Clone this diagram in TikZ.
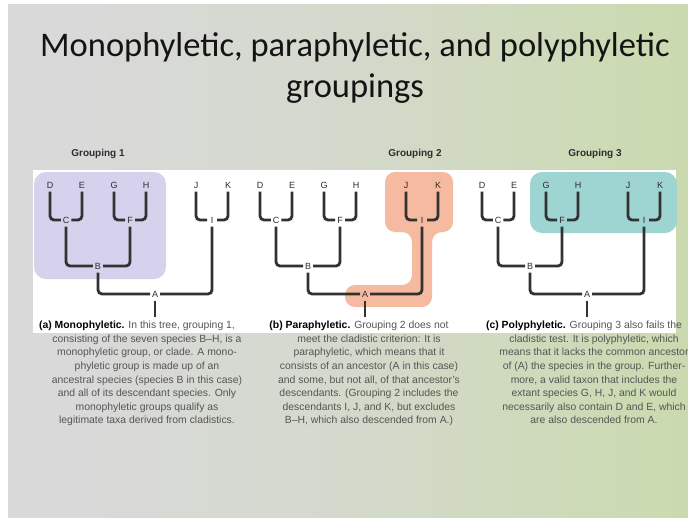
\documentclass[tikz,border=0pt]{standalone}
\usepackage{fontspec}
\setmainfont{Liberation Sans}
\newfontfamily\titlefont{Carlito}
\usetikzlibrary{positioning}

\definecolor{bgleft}{RGB}{217,217,217}
\definecolor{bgleftmid}{RGB}{212,217,204}
\definecolor{bgmid}{RGB}{204,218,180}
\definecolor{bgright}{RGB}{192,214,140}
\definecolor{monofill}{RGB}{214,210,237}
\definecolor{parafill}{RGB}{246,186,160}
\definecolor{polyfill}{RGB}{158,212,210}
\definecolor{branchgrey}{RGB}{50,50,50}
\definecolor{labelgrey}{RGB}{45,45,45}
\definecolor{captext}{RGB}{85,85,85}
\definecolor{titlecol}{RGB}{20,20,20}

\pgfdeclarehorizontalshading{slidebg}{100bp}{color(0bp)=(bgleft); color(30bp)=(bgleft); color(50bp)=(bgleftmid); color(70bp)=(bgmid); color(100bp)=(bgright)}

% one cladogram, #1 = x offset, #2 = name prefix
\newcommand{\phylotree}[2]{%
  \begin{scope}[xshift=#1pt]
    \node[leaf] (#2D) at (50,185) {D};
    \node[leaf] (#2E) at (82,185) {E};
    \node[leaf] (#2G) at (114,185) {G};
    \node[leaf] (#2H) at (146,185) {H};
    \node[leaf] (#2J) at (196,185) {J};
    \node[leaf] (#2K) at (228,185) {K};
    \node[leaf] (#2C) at (66,220) {C};
    \node[leaf] (#2F) at (130,220) {F};
    \node[leaf] (#2I) at (212,220) {I};
    \node[leaf] (#2B) at (98,266) {B};
    \node[leaf] (#2A) at (155,294) {A};
    \coordinate (#2root) at (155,317);
    \draw[branch] (#2D) |- (#2C);
    \draw[branch] (#2E) |- (#2C);
    \draw[branch] (#2G) |- (#2F);
    \draw[branch] (#2H) |- (#2F);
    \draw[branch] (#2J) |- (#2I);
    \draw[branch] (#2K) |- (#2I);
    \draw[branch] (#2C) |- (#2B);
    \draw[branch] (#2F) |- (#2B);
    \draw[branch] (#2B) |- (#2A);
    \draw[branch] (#2I) |- (#2A);
    \draw[branch] (#2A) -- (#2root);
  \end{scope}}

\begin{document}
\begin{tikzpicture}[x=1pt,y=-1pt,
    leaf/.style={inner xsep=2pt,inner ysep=3.5pt,outer sep=0pt,minimum width=10pt,text=labelgrey,font=\fontsize{9}{9}\selectfont},
    branch/.style={draw=branchgrey,line width=2.8pt,rounded corners=4pt},
    heading/.style={text=labelgrey,font=\bfseries\fontsize{10}{10}\selectfont},
    caption/.style={align=center,anchor=north,inner sep=0pt,text=captext,font=\fontsize{10.4}{13.6}\selectfont}]
  \useasboundingbox (0,0) rectangle (688,517);
  \clip (0,0) rectangle (688,517);
  \fill[white] (0,0) rectangle (688,517);
  \shade[shading=slidebg] (8,4) rectangle (688,517);

  % title
  \node[align=center,text=titlecol,font=\titlefont\fontsize{34.5}{41}\selectfont] (title) at (355,68) {Monophyletic, paraphyletic, and polyphyletic\\groupings};

  % headings
  \node[heading] (head1) at (98,154) {Grouping 1};
  \node[heading] (head2) at (415,154) {Grouping 2};
  \node[heading] (head3) at (595,154) {Grouping 3};

  % white panel and the three groupings
  \fill[white] (33,170) rectangle (676,333);
  \fill[monofill,rounded corners=12pt] (34,172) rectangle (166,279);
  \fill[parafill,rounded corners=10pt] (385,172) -- (453,172) -- (453,232) -- (432,232) -- (432,307)
    -- (345,307) -- (345,285) -- (412,285) -- (412,232) -- (385,232) -- cycle;
  \fill[polyfill,rounded corners=12pt] (530,172) rectangle (677,233);

  \phylotree{0}{m}
  \phylotree{210}{p}
  \phylotree{432}{q}

  % captions
  \node[caption] (capa) at (147,321) {\textcolor{black}{\textbf{(a) Monophyletic.}} In this tree, grouping 1,\hspace*{20pt}\\
    consisting of the seven species B--H, is a\\
    monophyletic group, or clade. A mono-\\
    phyletic group is made up of an\\
    ancestral species (species B in this case)\\
    and all of its descendant species. Only\\
    monophyletic groups qualify as\\
    legitimate taxa derived from cladistics.};
  \node[caption] (capb) at (369,321) {\textcolor{black}{\textbf{(b) Paraphyletic.}} Grouping 2 does not\hspace*{20pt}\\
    meet the cladistic criterion: It is\\
    paraphyletic, which means that it\\
    consists of an ancestor (A in this case)\\
    and some, but not all, of that ancestor's\\
    descendants. (Grouping 2 includes the\\
    descendants I, J, and K, but excludes\\
    B--H, which also descended from A.)};
  \node[caption] (capc) at (594,321) {\textcolor{black}{\textbf{(c) Polyphyletic.}} Grouping 3 also fails the\hspace*{20pt}\\
    cladistic test. It is polyphyletic, which\\
    means that it lacks the common ancestor\\
    of (A) the species in the group. Further-\\
    more, a valid taxon that includes the\\
    extant species G, H, J, and K would\\
    necessarily also contain D and E, which\\
    are also descended from A.};
\end{tikzpicture}
\end{document}
